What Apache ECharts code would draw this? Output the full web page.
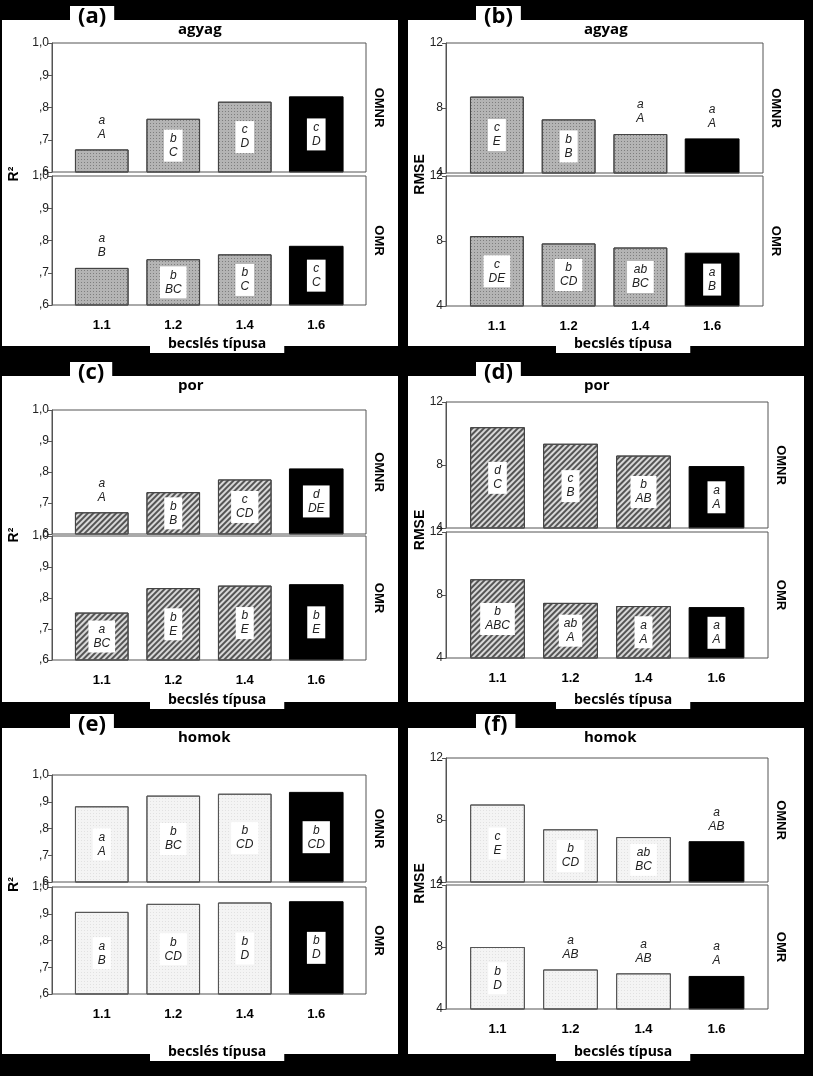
<!DOCTYPE html>
<html><head><meta charset="utf-8">
<script src="https://cdn.jsdelivr.net/npm/echarts@6/dist/echarts.min.js"></script>
<style>html,body{margin:0;background:#000}#c{width:813px;height:1076px}</style>
</head><body><div id="c"></div>
<script>
const categories = ['1.1','1.2','1.4','1.6'];
const r2Ticks = {0.6:',6',0.7:',7',0.8:',8',0.9:',9',1:'1,0'};
// values
const aOMNR=[0.670,0.765,0.818,0.833], aOMR=[0.715,0.742,0.757,0.782];
const bOMNR=[8.7,7.3,6.4,6.1], bOMR=[8.3,7.85,7.6,7.25];
const cOMNR=[0.670,0.735,0.776,0.810], cOMR=[0.753,0.832,0.840,0.843];
const dOMNR=[10.4,9.35,8.6,7.9], dOMR=[9.0,7.5,7.3,7.2];
const eOMNR=[0.883,0.923,0.930,0.935], eOMR=[0.907,0.937,0.942,0.945];
const fOMNR=[9.0,7.4,6.9,6.6], fOMR=[8.0,6.55,6.3,6.1];
// significance labels ("^" prefix = above bar)
const aOMNRl=['^a\nA','b\nC','c\nD','c\nD'], aOMRl=['^a\nB','b\nBC','b\nC','c\nC'];
const bOMNRl=['c\nE','b\nB','^a\nA','^a\nA'], bOMRl=['c\nDE','b\nCD','ab\nBC','a\nB'];
const cOMNRl=['^a\nA','b\nB','c\nCD','d\nDE'], cOMRl=['a\nBC','b\nE','b\nE','b\nE'];
const dOMNRl=['d\nC','c\nB','b\nAB','a\nA'], dOMRl=['b\nABC','ab\nA','a\nA','a\nA'];
const eOMNRl=['a\nA','b\nBC','b\nCD','b\nCD'], eOMRl=['a\nB','b\nCD','b\nD','b\nD'];
const fOMNRl=['c\nE','b\nCD','ab\nBC','^a\nAB'], fOMRl=['b\nD','^a\nAB','^a\nAB','^a\nA'];

const panels=[
 {id:'(a)',t:'agyag',r2:true,top:aOMNR,bot:aOMR,tl:aOMNRl,bl:aOMRl,x:52,w:314,y1:43,y2:176,h:129,px:0,py:20,pat:'x'},
 {id:'(b)',t:'agyag',r2:false,top:bOMNR,bot:bOMR,tl:bOMNRl,bl:bOMRl,x:446,w:317,y1:43,y2:176,h:130,px:406,py:20,pat:'x'},
 {id:'(c)',t:'por',r2:true,top:cOMNR,bot:cOMR,tl:cOMNRl,bl:cOMRl,x:52,w:314,y1:410,y2:536,h:124,px:0,py:376,pat:'d'},
 {id:'(d)',t:'por',r2:false,top:dOMNR,bot:dOMR,tl:dOMNRl,bl:dOMRl,x:446,w:322,y1:402,y2:532,h:126,px:406,py:376,pat:'d'},
 {id:'(e)',t:'homok',r2:true,top:eOMNR,bot:eOMR,tl:eOMNRl,bl:eOMRl,x:52,w:314,y1:775,y2:887,h:107,px:0,py:728,pat:'o'},
 {id:'(f)',t:'homok',r2:false,top:fOMNR,bot:fOMR,tl:fOMNRl,bl:fOMRl,x:446,w:322,y1:758,y2:885,h:124,px:406,py:728,pat:'o'}
];
const grid=[],xAxis=[],yAxis=[],series=[],graphic=[];
function style(pat){
  if(pat==='x') return {color:'#b4b4b4',borderColor:'#444',borderWidth:1,decal:{symbol:'rect',symbolSize:1,dashArrayX:[1,2],dashArrayY:[1,2],color:'rgba(90,90,90,0.6)'}};
  if(pat==='d') return {color:'#d8d8d8',borderColor:'#444',borderWidth:1,decal:{symbol:'rect',symbolSize:1,dashArrayX:[[1,0]],dashArrayY:[2,2],rotation:-Math.PI/4,color:'#555'}};
  return {color:'#f4f4f4',borderColor:'#555',borderWidth:1,decal:{symbol:'circle',symbolSize:0.5,dashArrayX:[1,2],dashArrayY:[1,2],color:'#888'}};
}
let gi=0;
panels.forEach(p=>{
  graphic.push({type:'rect',shape:{x:p.px+2,y:p.py,width:396,height:326},style:{fill:'#fff'},z:-10});
  graphic.push({type:'text',left:p.px+70,top:p.py-14,style:{text:p.id,font:'bold 22px "Open Sans"',fill:'#000',backgroundColor:'#fff',padding:[0,8]}});
  graphic.push({type:'text',left:p.px+178,top:p.py+2,style:{text:p.t,font:'bold 15px "Open Sans"',fill:'#000'}});
  graphic.push({type:'text',left:p.px+150,top:p.py+315,style:{text:'becslés típusa',font:'bold 14px "Open Sans"',fill:'#000',backgroundColor:'#fff',padding:[2,18]}});
  graphic.push({type:'text',x:p.px+14,y:(p.y1+p.y2+p.h)/2,rotation:Math.PI/2,style:{text:p.r2?'R²':'RMSE',font:'bold 14px Arial',fill:'#000',align:'center',verticalAlign:'middle'}});
  [['OMNR',p.y1],['OMR',p.y2]].forEach(([n,y])=>graphic.push({type:'text',x:p.x+p.w+13,y:y+p.h/2,rotation:-Math.PI/2,style:{text:n,font:'bold 13px Arial',fill:'#000',align:'center',verticalAlign:'middle'}}));
  const pad=Math.round(p.w*0.046);
  [[p.top,p.tl,p.y1,false],[p.bot,p.bl,p.y2,true]].forEach(([vals,lbls,y,showX])=>{
    graphic.push({type:'rect',shape:{x:p.x,y:y,width:p.w,height:p.h},style:{fill:'none',stroke:'#555',lineWidth:1},z:10,silent:true});
    grid.push({left:p.x+pad,top:y,width:p.w-2*pad,height:p.h});
    xAxis.push({type:'category',gridIndex:gi,data:categories,axisLine:{show:false},axisTick:{show:false},
      axisLabel:{show:showX,margin:14,fontWeight:'bold',fontSize:13,color:'#000',fontFamily:'Arial'}});
    const yl={show:true,lineStyle:{color:'#555'}};
    yAxis.push(p.r2?{type:'value',gridIndex:gi,offset:pad,min:0.6,max:1.0,interval:0.1,splitLine:{show:false},axisLine:yl,axisTick:{show:true,length:4},axisLabel:{fontSize:12,color:'#222',margin:3,formatter:v=>r2Ticks[Math.round(v*10)/10]}}
      :{type:'value',gridIndex:gi,offset:pad,min:4,max:12,interval:4,splitLine:{show:false},axisLine:yl,axisTick:{show:true,length:4},axisLabel:{fontSize:12,color:'#222',margin:3}});
    series.push({type:'bar',xAxisIndex:gi,yAxisIndex:gi,barWidth:'75%',silent:true,
      data:vals.map((v,i)=>{const l=lbls[i],above=l[0]==='^';
        return {value:v,itemStyle:i===3?{color:'#000',borderColor:'#000'}:style(p.pat),
          label:{show:true,position:above?'top':'inside',distance:above?8:5,formatter:above?l.slice(1):l,fontStyle:'italic',fontSize:12,lineHeight:14,color:'#222',fontFamily:'Arial',
            backgroundColor:above?'transparent':'#fff',padding:above?0:[2,5]}};})});
    gi++;
  });
});
const chart=echarts.init(document.getElementById('c'));
chart.setOption({backgroundColor:'#000',animation:false,grid,xAxis,yAxis,series,graphic});
</script></body></html>
